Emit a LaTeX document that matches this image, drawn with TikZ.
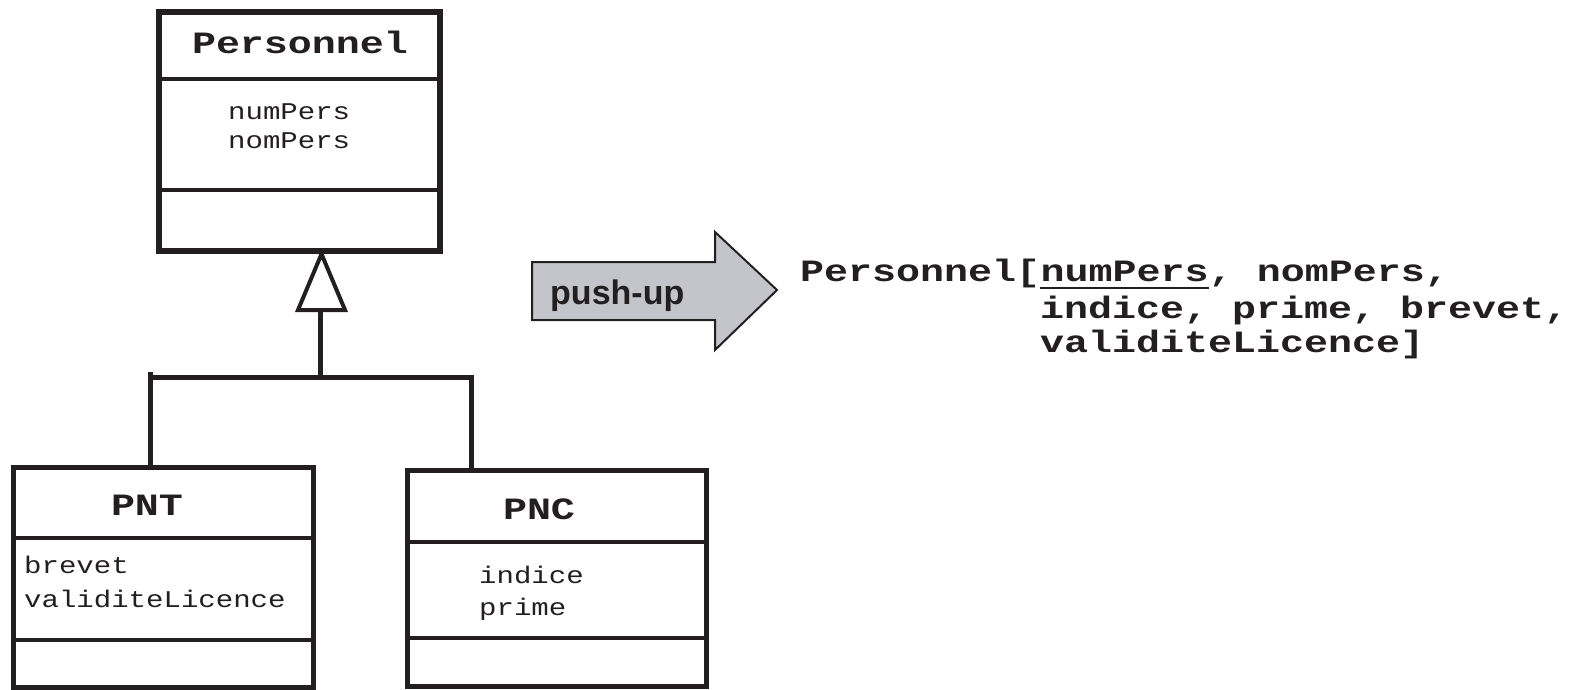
\documentclass[tikz,border=0pt]{standalone}
\usepackage{fontspec}
\setmainfont{Liberation Sans}
\newfontfamily\courw[FakeStretch=1.29]{Liberation Mono}
\newfontfamily\courn[FakeStretch=1.21]{Liberation Mono}
\definecolor{inkc}{RGB}{35,31,32}
\definecolor{arrowgray}{RGB}{195,197,202}
\begin{document}
\begin{tikzpicture}[x=1pt,y=-1pt,
  bigbox/.style={draw=inkc, line width=6pt, inner sep=0pt, fill=white},
  smallbox/.style={draw=inkc, line width=5pt, inner sep=0pt, fill=white},
  sepline/.style={draw=inkc, line width=4pt},
  conn/.style={draw=inkc, line width=5pt},
  ctitle/.style={inner sep=0pt, anchor=base, text=inkc, font=\courw\bfseries\fontsize{31}{31}\selectfont},
  cattr/.style={inner sep=0pt, anchor=base west, text=inkc, font=\courn\fontsize{24}{24}\selectfont},
  rtext/.style={inner sep=0pt, anchor=base west, text=inkc, font=\courw\bfseries\fontsize{31}{31}\selectfont},
  pushtxt/.style={inner sep=0pt, anchor=base west, text=inkc, font=\bfseries\fontsize{34}{34}\selectfont}]
\useasboundingbox (0,0) rectangle (1569,689);

% Personnel class
\node[bigbox, minimum width=281pt, minimum height=239pt] (pers) at (299.5,131.5) {};
\draw[sepline] (pers.west |- 0,79) -- (pers.east |- 0,79);
\draw[sepline] (pers.west |- 0,190) -- (pers.east |- 0,190);
\node[ctitle] (persT) at (300,53) {Personnel};
\node[cattr] (numP) at (228,119) {numPers};
\node[cattr] (nomP) at (228,148) {nomPers};

% PNT class
\node[smallbox, minimum width=300pt, minimum height=220pt] (pnt) at (163,577) {};
\draw[sepline] (pnt.west |- 0,538) -- (pnt.east |- 0,538);
\draw[sepline] (pnt.west |- 0,640) -- (pnt.east |- 0,640);
\node[ctitle] (pntT) at (147,515) {PNT};
\node[cattr] (brev) at (24,573) {brevet};
\node[cattr] (vali) at (24,607) {validiteLicence};

% PNC class
\node[smallbox, minimum width=299pt, minimum height=216pt] (pnc) at (556.5,578) {};
\draw[sepline] (pnc.west |- 0,542) -- (pnc.east |- 0,542);
\draw[sepline] (pnc.west |- 0,638) -- (pnc.east |- 0,638);
\node[ctitle] (pncT) at (539,519) {PNC};
\node[cattr] (indi) at (479,583) {indice};
\node[cattr] (prim) at (479,615) {prime};

% generalization connector
\coordinate (hl) at (150,377);
\coordinate (hr) at (471,377);
\coordinate (hm) at (320,377);
\coordinate (tb) at (320,310);
\draw[conn] (pnt.north -| hl) -- ([yshift=5pt]hl);
\draw[conn] (hl) -- (hr) -- (pnc.north -| hr);
\draw[conn] (hm) -- (tb);
\draw[draw=inkc, line width=4pt, fill=white, line join=miter] (pers.south -| 321.5,0) -- (345,310) -- (298,310) -- cycle;

% push-up arrow
\draw[draw=inkc, line width=2pt, fill=arrowgray, line join=miter]
  (532,262) -- (715,262) -- (715,232) -- (777,290) -- (715,350) -- (715,320) -- (532,320) -- cycle;
\node[pushtxt] (push) at (550,304) {push-up};

% relation text
\node[rtext] (r1) at (800,281) {Personnel[};
\node[rtext] (r1u) at (r1.base east) {numPers};
\node[rtext] (r1b) at (r1u.base east) {, nomPers,};
\draw[draw=inkc, line width=2pt] ([yshift=-7pt]r1u.base west) -- ([yshift=-7pt]r1u.base east);
\node[rtext] (r2) at (1040,318) {indice, prime, brevet,};
\node[rtext] (r3) at (1040,352) {validiteLicence]};
\end{tikzpicture}
\end{document}
